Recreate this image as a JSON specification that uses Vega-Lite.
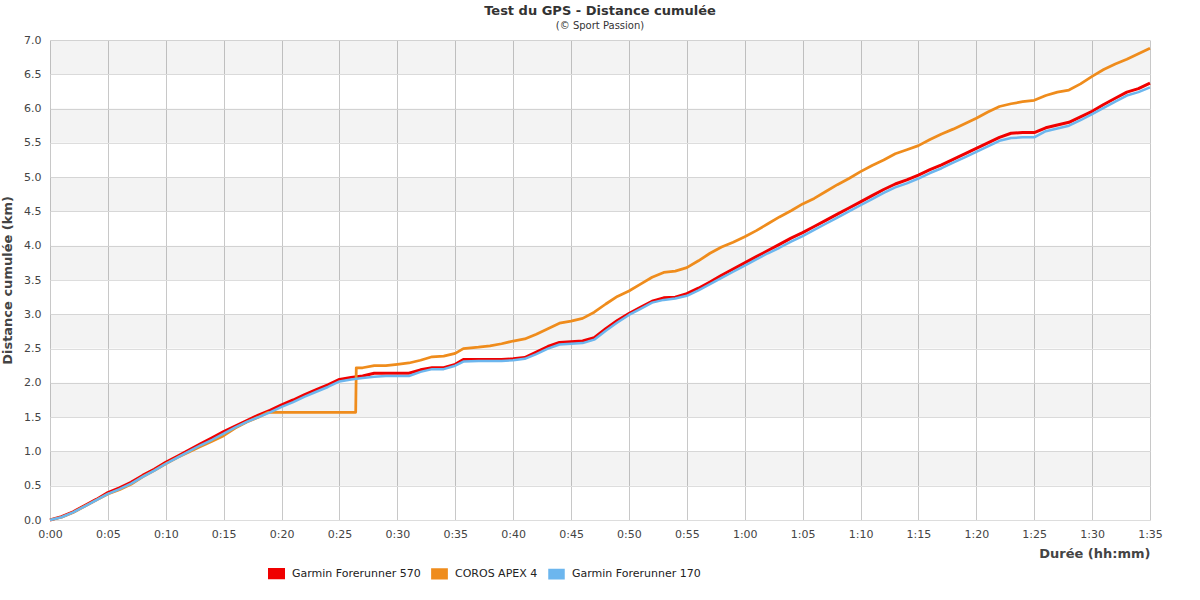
{
  "$schema": "https://vega.github.io/schema/vega-lite/v6.json",
  "width": 1100,
  "height": 480,
  "autosize": {"type": "none"},
  "padding": {"left": 50, "top": 40, "right": 50, "bottom": 80},
  "background": "white",
  "config": {
    "font": "DejaVu Sans",
    "view": {"stroke": null},
    "axis": {"labelFont": "DejaVu Sans", "titleFont": "DejaVu Sans"}
  },
  "title": {
    "text": "Test du GPS - Distance cumulée",
    "subtitle": "(© Sport Passion)",
    "fontSize": 13,
    "fontWeight": "bold",
    "color": "#333333",
    "subtitleFontSize": 10,
    "subtitleColor": "#333333",
    "subtitlePadding": 3,
    "anchor": "middle",
    "offset": 3
  },
  "datasets": {
    "bands": [
      {"lo": 0.5, "hi": 1.0}, {"lo": 1.5, "hi": 2.0}, {"lo": 2.5, "hi": 3.0},
      {"lo": 3.5, "hi": 4.0}, {"lo": 4.5, "hi": 5.0}, {"lo": 5.5, "hi": 6.0},
      {"lo": 6.5, "hi": 7.0}
    ],
    "gps": [
      {"t": 0, "Garmin Forerunner 570": 0, "COROS APEX 4": 0, "Garmin Forerunner 170": 0},
      {"t": 1, "Garmin Forerunner 570": 0.05, "COROS APEX 4": 0.04, "Garmin Forerunner 170": 0.04},
      {"t": 2, "Garmin Forerunner 570": 0.12, "COROS APEX 4": 0.11, "Garmin Forerunner 170": 0.11},
      {"t": 3, "Garmin Forerunner 570": 0.21, "COROS APEX 4": 0.20, "Garmin Forerunner 170": 0.20},
      {"t": 4, "Garmin Forerunner 570": 0.30, "COROS APEX 4": 0.29, "Garmin Forerunner 170": 0.29},
      {"t": 5, "Garmin Forerunner 570": 0.40, "COROS APEX 4": 0.38, "Garmin Forerunner 170": 0.38},
      {"t": 6, "Garmin Forerunner 570": 0.47, "COROS APEX 4": 0.44, "Garmin Forerunner 170": 0.45},
      {"t": 7, "Garmin Forerunner 570": 0.55, "COROS APEX 4": 0.52, "Garmin Forerunner 170": 0.53},
      {"t": 8, "Garmin Forerunner 570": 0.65, "COROS APEX 4": 0.63, "Garmin Forerunner 170": 0.63},
      {"t": 9, "Garmin Forerunner 570": 0.74, "COROS APEX 4": 0.72, "Garmin Forerunner 170": 0.72},
      {"t": 10, "Garmin Forerunner 570": 0.84, "COROS APEX 4": 0.82, "Garmin Forerunner 170": 0.82},
      {"t": 11, "Garmin Forerunner 570": 0.93, "COROS APEX 4": 0.91, "Garmin Forerunner 170": 0.91},
      {"t": 12, "Garmin Forerunner 570": 1.02, "COROS APEX 4": 0.99, "Garmin Forerunner 170": 1.00},
      {"t": 13, "Garmin Forerunner 570": 1.11, "COROS APEX 4": 1.07, "Garmin Forerunner 170": 1.09},
      {"t": 14, "Garmin Forerunner 570": 1.20, "COROS APEX 4": 1.15, "Garmin Forerunner 170": 1.17},
      {"t": 15, "Garmin Forerunner 570": 1.29, "COROS APEX 4": 1.23, "Garmin Forerunner 170": 1.26},
      {"t": 16, "Garmin Forerunner 570": 1.37, "COROS APEX 4": 1.34, "Garmin Forerunner 170": 1.35},
      {"t": 17, "Garmin Forerunner 570": 1.45, "COROS APEX 4": 1.43, "Garmin Forerunner 170": 1.43},
      {"t": 18, "Garmin Forerunner 570": 1.53, "COROS APEX 4": 1.50, "Garmin Forerunner 170": 1.50},
      {"t": 18.85, "COROS APEX 4": 1.57},
      {"t": 19, "Garmin Forerunner 570": 1.60, "Garmin Forerunner 170": 1.57},
      {"t": 20, "Garmin Forerunner 570": 1.68, "Garmin Forerunner 170": 1.65},
      {"t": 21, "Garmin Forerunner 570": 1.75, "Garmin Forerunner 170": 1.72},
      {"t": 22, "Garmin Forerunner 570": 1.83, "Garmin Forerunner 170": 1.80},
      {"t": 23, "Garmin Forerunner 570": 1.90, "Garmin Forerunner 170": 1.87},
      {"t": 24, "Garmin Forerunner 570": 1.97, "Garmin Forerunner 170": 1.94},
      {"t": 25, "Garmin Forerunner 570": 2.05, "Garmin Forerunner 170": 2.02},
      {"t": 26, "Garmin Forerunner 570": 2.08, "Garmin Forerunner 170": 2.05},
      {"t": 26.4, "COROS APEX 4": 1.57},
      {"t": 26.45, "COROS APEX 4": 2.22},
      {"t": 27, "Garmin Forerunner 570": 2.10, "COROS APEX 4": 2.22, "Garmin Forerunner 170": 2.07},
      {"t": 28, "Garmin Forerunner 570": 2.14, "COROS APEX 4": 2.25, "Garmin Forerunner 170": 2.09},
      {"t": 29, "Garmin Forerunner 570": 2.14, "COROS APEX 4": 2.25, "Garmin Forerunner 170": 2.10},
      {"t": 30, "Garmin Forerunner 570": 2.14, "COROS APEX 4": 2.27, "Garmin Forerunner 170": 2.10},
      {"t": 31, "Garmin Forerunner 570": 2.14, "COROS APEX 4": 2.29, "Garmin Forerunner 170": 2.10},
      {"t": 32, "Garmin Forerunner 570": 2.19, "COROS APEX 4": 2.33, "Garmin Forerunner 170": 2.16},
      {"t": 33, "Garmin Forerunner 570": 2.22, "COROS APEX 4": 2.38, "Garmin Forerunner 170": 2.20},
      {"t": 34, "Garmin Forerunner 570": 2.22, "COROS APEX 4": 2.39, "Garmin Forerunner 170": 2.20},
      {"t": 35, "Garmin Forerunner 570": 2.27, "COROS APEX 4": 2.43, "Garmin Forerunner 170": 2.25},
      {"t": 35.7, "Garmin Forerunner 570": 2.34, "COROS APEX 4": 2.50, "Garmin Forerunner 170": 2.31},
      {"t": 37, "Garmin Forerunner 570": 2.34, "COROS APEX 4": 2.52, "Garmin Forerunner 170": 2.32},
      {"t": 38, "Garmin Forerunner 570": 2.34, "COROS APEX 4": 2.54, "Garmin Forerunner 170": 2.32},
      {"t": 39, "Garmin Forerunner 570": 2.34, "COROS APEX 4": 2.57, "Garmin Forerunner 170": 2.32},
      {"t": 40, "Garmin Forerunner 570": 2.35, "COROS APEX 4": 2.61, "Garmin Forerunner 170": 2.33},
      {"t": 41, "Garmin Forerunner 570": 2.37, "COROS APEX 4": 2.64, "Garmin Forerunner 170": 2.35},
      {"t": 42, "Garmin Forerunner 570": 2.45, "COROS APEX 4": 2.71, "Garmin Forerunner 170": 2.42},
      {"t": 43, "Garmin Forerunner 570": 2.53, "COROS APEX 4": 2.79, "Garmin Forerunner 170": 2.50},
      {"t": 44, "Garmin Forerunner 570": 2.59, "COROS APEX 4": 2.87, "Garmin Forerunner 170": 2.56},
      {"t": 45, "Garmin Forerunner 570": 2.60, "COROS APEX 4": 2.90, "Garmin Forerunner 170": 2.57},
      {"t": 46, "Garmin Forerunner 570": 2.61, "COROS APEX 4": 2.94, "Garmin Forerunner 170": 2.58},
      {"t": 47, "Garmin Forerunner 570": 2.66, "COROS APEX 4": 3.03, "Garmin Forerunner 170": 2.63},
      {"t": 48, "Garmin Forerunner 570": 2.79, "COROS APEX 4": 3.15, "Garmin Forerunner 170": 2.76},
      {"t": 49, "Garmin Forerunner 570": 2.91, "COROS APEX 4": 3.26, "Garmin Forerunner 170": 2.88},
      {"t": 50, "Garmin Forerunner 570": 3.01, "COROS APEX 4": 3.34, "Garmin Forerunner 170": 2.99},
      {"t": 51, "Garmin Forerunner 570": 3.10, "COROS APEX 4": 3.44, "Garmin Forerunner 170": 3.08},
      {"t": 52, "Garmin Forerunner 570": 3.19, "COROS APEX 4": 3.54, "Garmin Forerunner 170": 3.17},
      {"t": 53, "Garmin Forerunner 570": 3.24, "COROS APEX 4": 3.61, "Garmin Forerunner 170": 3.21},
      {"t": 54, "Garmin Forerunner 570": 3.25, "COROS APEX 4": 3.63, "Garmin Forerunner 170": 3.23},
      {"t": 55, "Garmin Forerunner 570": 3.30, "COROS APEX 4": 3.68, "Garmin Forerunner 170": 3.27},
      {"t": 56, "Garmin Forerunner 570": 3.38, "COROS APEX 4": 3.78, "Garmin Forerunner 170": 3.35},
      {"t": 57, "Garmin Forerunner 570": 3.47, "COROS APEX 4": 3.89, "Garmin Forerunner 170": 3.44},
      {"t": 58, "Garmin Forerunner 570": 3.57, "COROS APEX 4": 3.98, "Garmin Forerunner 170": 3.53},
      {"t": 59, "Garmin Forerunner 570": 3.66, "COROS APEX 4": 4.05, "Garmin Forerunner 170": 3.62},
      {"t": 60, "Garmin Forerunner 570": 3.75, "COROS APEX 4": 4.13, "Garmin Forerunner 170": 3.71},
      {"t": 61, "Garmin Forerunner 570": 3.84, "COROS APEX 4": 4.22, "Garmin Forerunner 170": 3.80},
      {"t": 62, "Garmin Forerunner 570": 3.93, "COROS APEX 4": 4.32, "Garmin Forerunner 170": 3.89},
      {"t": 63, "Garmin Forerunner 570": 4.02, "COROS APEX 4": 4.42, "Garmin Forerunner 170": 3.97},
      {"t": 64, "Garmin Forerunner 570": 4.11, "COROS APEX 4": 4.51, "Garmin Forerunner 170": 4.06},
      {"t": 65, "Garmin Forerunner 570": 4.19, "COROS APEX 4": 4.61, "Garmin Forerunner 170": 4.14},
      {"t": 66, "Garmin Forerunner 570": 4.28, "COROS APEX 4": 4.69, "Garmin Forerunner 170": 4.23},
      {"t": 67, "Garmin Forerunner 570": 4.37, "COROS APEX 4": 4.79, "Garmin Forerunner 170": 4.32},
      {"t": 68, "Garmin Forerunner 570": 4.46, "COROS APEX 4": 4.89, "Garmin Forerunner 170": 4.41},
      {"t": 69, "Garmin Forerunner 570": 4.55, "COROS APEX 4": 4.98, "Garmin Forerunner 170": 4.50},
      {"t": 70, "Garmin Forerunner 570": 4.64, "COROS APEX 4": 5.08, "Garmin Forerunner 170": 4.59},
      {"t": 71, "Garmin Forerunner 570": 4.73, "COROS APEX 4": 5.17, "Garmin Forerunner 170": 4.68},
      {"t": 72, "Garmin Forerunner 570": 4.82, "COROS APEX 4": 5.25, "Garmin Forerunner 170": 4.77},
      {"t": 73, "Garmin Forerunner 570": 4.90, "COROS APEX 4": 5.34, "Garmin Forerunner 170": 4.85},
      {"t": 74, "Garmin Forerunner 570": 4.96, "COROS APEX 4": 5.40, "Garmin Forerunner 170": 4.91},
      {"t": 75, "Garmin Forerunner 570": 5.03, "COROS APEX 4": 5.46, "Garmin Forerunner 170": 4.98},
      {"t": 76, "Garmin Forerunner 570": 5.11, "COROS APEX 4": 5.55, "Garmin Forerunner 170": 5.06},
      {"t": 77, "Garmin Forerunner 570": 5.18, "COROS APEX 4": 5.63, "Garmin Forerunner 170": 5.13},
      {"t": 78, "Garmin Forerunner 570": 5.26, "COROS APEX 4": 5.70, "Garmin Forerunner 170": 5.21},
      {"t": 79, "Garmin Forerunner 570": 5.34, "COROS APEX 4": 5.78, "Garmin Forerunner 170": 5.29},
      {"t": 80, "Garmin Forerunner 570": 5.42, "COROS APEX 4": 5.86, "Garmin Forerunner 170": 5.37},
      {"t": 81, "Garmin Forerunner 570": 5.50, "COROS APEX 4": 5.95, "Garmin Forerunner 170": 5.45},
      {"t": 82, "Garmin Forerunner 570": 5.58, "COROS APEX 4": 6.03, "Garmin Forerunner 170": 5.53},
      {"t": 83, "Garmin Forerunner 570": 5.64, "COROS APEX 4": 6.07, "Garmin Forerunner 170": 5.57},
      {"t": 84, "Garmin Forerunner 570": 5.65, "COROS APEX 4": 6.10, "Garmin Forerunner 170": 5.58},
      {"t": 85, "Garmin Forerunner 570": 5.65, "COROS APEX 4": 6.12, "Garmin Forerunner 170": 5.58},
      {"t": 86, "Garmin Forerunner 570": 5.72, "COROS APEX 4": 6.19, "Garmin Forerunner 170": 5.67},
      {"t": 87, "Garmin Forerunner 570": 5.76, "COROS APEX 4": 6.24, "Garmin Forerunner 170": 5.71},
      {"t": 88, "Garmin Forerunner 570": 5.80, "COROS APEX 4": 6.27, "Garmin Forerunner 170": 5.75},
      {"t": 89, "Garmin Forerunner 570": 5.88, "COROS APEX 4": 6.36, "Garmin Forerunner 170": 5.83},
      {"t": 90, "Garmin Forerunner 570": 5.96, "COROS APEX 4": 6.47, "Garmin Forerunner 170": 5.92},
      {"t": 91, "Garmin Forerunner 570": 6.06, "COROS APEX 4": 6.57, "Garmin Forerunner 170": 6.01},
      {"t": 92, "Garmin Forerunner 570": 6.15, "COROS APEX 4": 6.65, "Garmin Forerunner 170": 6.10},
      {"t": 93, "Garmin Forerunner 570": 6.24, "COROS APEX 4": 6.72, "Garmin Forerunner 170": 6.19},
      {"t": 94, "Garmin Forerunner 570": 6.29, "COROS APEX 4": 6.80, "Garmin Forerunner 170": 6.24},
      {"t": 95, "Garmin Forerunner 570": 6.37, "COROS APEX 4": 6.88, "Garmin Forerunner 170": 6.31}
    ]
  },
  "layer": [
    {
      "data": {"name": "bands"},
      "mark": {"type": "rect", "fill": "black", "fillOpacity": 0.047},
      "encoding": {
        "y": {
          "field": "lo",
          "type": "quantitative",
          "scale": {"domain": [0, 7], "nice": false},
          "axis": {
            "values": [0, 0.5, 1, 1.5, 2, 2.5, 3, 3.5, 4, 4.5, 5, 5.5, 6, 6.5, 7],
            "format": ".1f",
            "title": "Distance cumulée (km)",
            "titleFontSize": 13,
            "titleFontWeight": "bold",
            "titleColor": "#444444",
            "titlePadding": 9,
            "labelFontSize": 11,
            "labelColor": "#444444",
            "labelPadding": 9,
            "labelFlush": false,
            "labelOverlap": false,
            "domain": false,
            "ticks": false,
            "grid": true,
            "gridColor": "#dddddd",
            "gridWidth": 1
          }
        },
        "y2": {"field": "hi"}
      }
    },
    {
      "data": {"name": "gps"},
      "transform": [
        {"fold": ["Garmin Forerunner 570", "COROS APEX 4", "Garmin Forerunner 170"], "as": ["s", "d"]},
        {"filter": "isValid(datum.d)"}
      ],
      "mark": {"type": "line", "interpolate": "linear", "strokeJoin": "round"},
      "encoding": {
        "x": {
          "field": "t",
          "type": "quantitative",
          "scale": {"domain": [0, 95], "nice": false, "zero": true},
          "axis": {
            "values": [0, 5, 10, 15, 20, 25, 30, 35, 40, 45, 50, 55, 60, 65, 70, 75, 80, 85, 90, 95],
            "labelExpr": "floor(datum.value / 60) + ':' + (datum.value % 60 < 10 ? '0' : '') + (datum.value % 60)",
            "title": "Durée (hh:mm)",
            "titleAnchor": "end",
            "titleFontSize": 13,
            "titleFontWeight": "bold",
            "titleColor": "#444444",
            "titlePadding": 8,
            "labelFontSize": 11,
            "labelColor": "#444444",
            "labelPadding": 8,
            "labelFlush": false,
            "labelOverlap": false,
            "domain": false,
            "ticks": false,
            "grid": true,
            "gridColor": "#c8c8c8",
            "gridWidth": 1
          }
        },
        "y": {
          "field": "d",
          "type": "quantitative",
          "scale": {"domain": [0, 7], "nice": false},
          "axis": {
            "values": [0, 0.5, 1, 1.5, 2, 2.5, 3, 3.5, 4, 4.5, 5, 5.5, 6, 6.5, 7],
            "format": ".1f",
            "title": "Distance cumulée (km)",
            "titleFontSize": 13,
            "titleFontWeight": "bold",
            "titleColor": "#444444",
            "titlePadding": 9,
            "labelFontSize": 11,
            "labelColor": "#444444",
            "labelPadding": 9,
            "labelFlush": false,
            "labelOverlap": false,
            "domain": false,
            "ticks": false,
            "grid": true,
            "gridColor": "#dddddd",
            "gridWidth": 1
          }
        },
        "color": {
          "field": "s",
          "type": "nominal",
          "scale": {
            "domain": ["Garmin Forerunner 570", "COROS APEX 4", "Garmin Forerunner 170"],
            "range": ["#f00000", "#ef8c1c", "#6cb6ee"]
          },
          "legend": {
            "title": null,
            "orient": "none",
            "direction": "horizontal",
            "legendX": 218,
            "legendY": 525,
            "labelFontSize": 11,
            "labelColor": "#222222",
            "labelOffset": 7,
            "columnPadding": 6,
            "symbolType": "M-1,-0.6L1,-0.6L1,0.6L-1,0.6Z",
            "symbolSize": 196,
            "symbolStrokeWidth": 1,
            "encode": {
              "symbols": {"update": {"fill": {"scale": "color", "field": "value"}}}
            }
          }
        },
        "strokeWidth": {
          "field": "s",
          "type": "nominal",
          "scale": {
            "domain": ["Garmin Forerunner 570", "COROS APEX 4", "Garmin Forerunner 170"],
            "range": [3, 2.5, 3]
          },
          "legend": null
        }
      }
    }
  ]
}
